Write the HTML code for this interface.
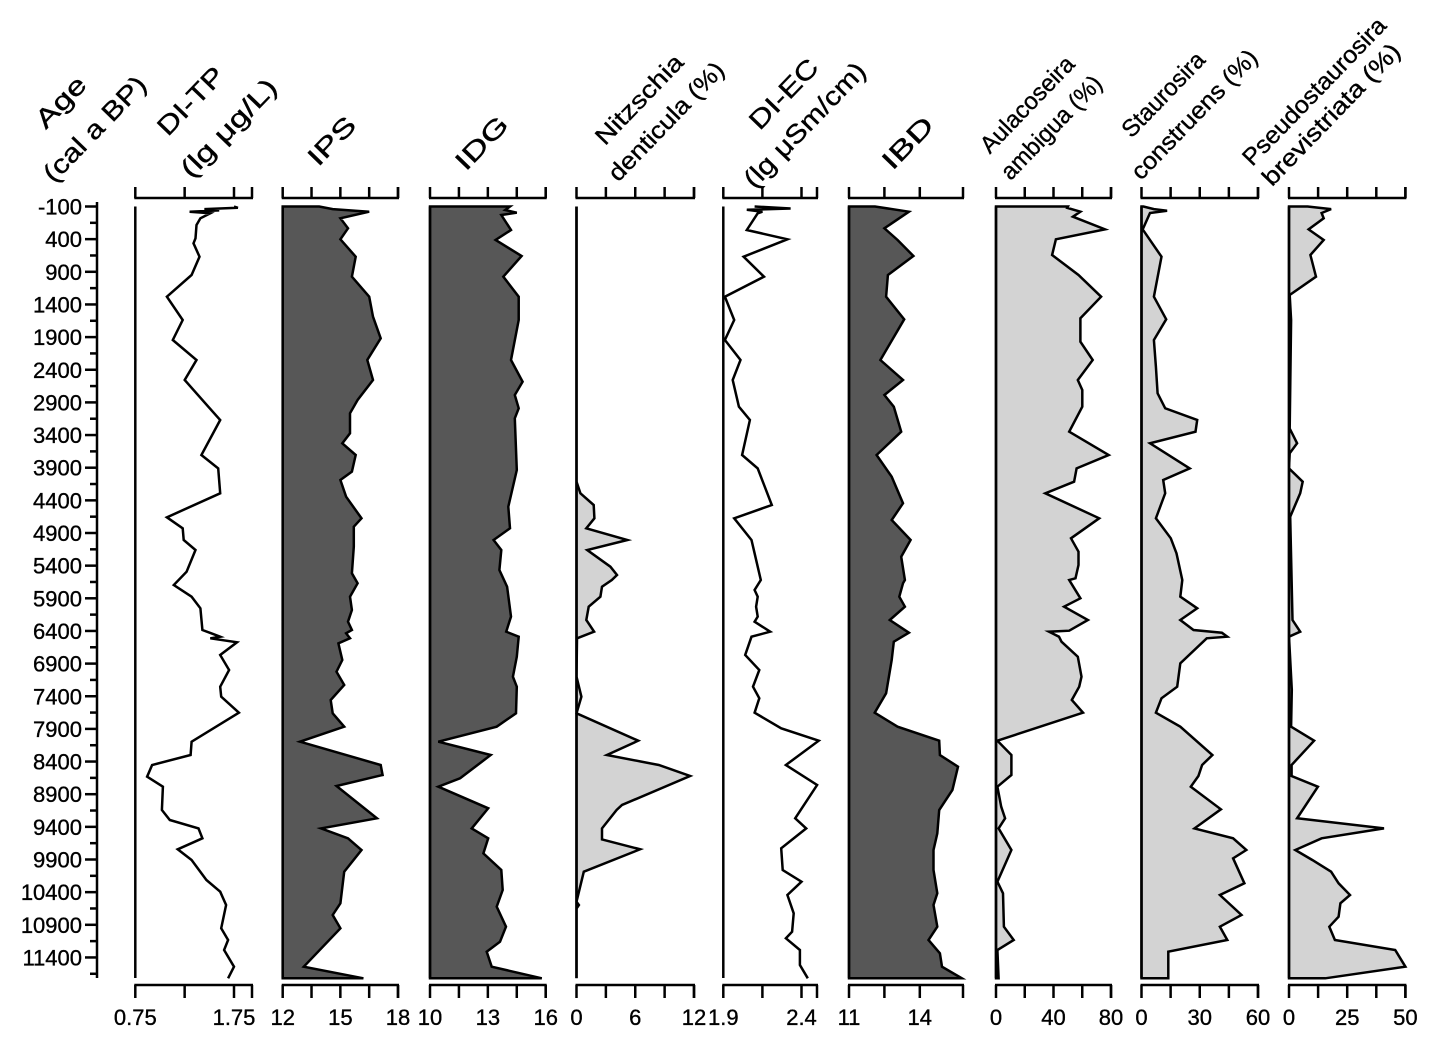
<!DOCTYPE html>
<html><head><meta charset="utf-8"><style>
html,body{margin:0;padding:0;background:#fff;}
svg{display:block;font-family:"Liberation Sans",Arial,sans-serif;}
text{stroke:#000;stroke-width:0.35px;}
</style></head><body>
<svg id="chart" width="1433" height="1046" viewBox="0 0 1433 1046" xmlns="http://www.w3.org/2000/svg"></svg>
<script>
const ageTicks = [-100,400,900,1400,1900,2400,2900,3400,3900,4400,4900,5400,5900,6400,6900,7400,7900,8400,8900,9400,9900,10400,10900,11400];

const tpAge = [-100,-80,-60,-40,-20,4,80,183,387,464,669,949,1281,1638,1944,2251,2557,2966,3170,3706,3910,4292,4660,4828,5007,5160,5493,5697,5876,6053,6385,6436,6488,6513,6574,6768,6998,7254,7407,7652,8096,8300,8453,8632,8785,9142,9295,9423,9576,9744,9908,10214,10393,10597,10954,11133,11286,11542,11720];
const tpVal = [1.75,1.79,1.45,1.60,1.30,1.51,1.41,1.37,1.36,1.34,1.40,1.32,1.07,1.23,1.13,1.37,1.25,1.49,1.61,1.42,1.59,1.61,1.07,1.23,1.24,1.36,1.27,1.14,1.32,1.41,1.43,1.52,1.61,1.51,1.78,1.61,1.70,1.61,1.62,1.80,1.32,1.31,0.92,0.87,1.03,1.02,1.10,1.39,1.43,1.18,1.32,1.47,1.61,1.67,1.62,1.69,1.65,1.75,1.69];

const ipsAge = [-100,-60,-20,80,234,402,669,975,1281,1588,1918,2251,2557,2863,3067,3373,3526,3706,3961,4088,4344,4675,4803,5110,5517,5670,5876,6079,6258,6385,6436,6513,6590,6845,7024,7228,7457,7661,7866,8096,8453,8606,8775,9269,9423,9576,9755,10087,10571,10750,10954,11542,11720];
const ipsVal = [13.9,14.6,16.5,15.0,15.4,15.0,15.8,15.6,16.5,16.7,17.1,16.4,16.7,15.9,15.5,15.5,15.1,15.8,15.6,15.0,15.3,16.1,15.7,15.7,15.6,15.9,15.5,15.6,15.4,15.6,15.3,15.5,14.9,15.1,14.8,15.2,14.5,14.6,15.2,12.9,17.1,17.2,14.8,16.9,14.0,15.4,16.1,15.2,15.0,14.6,15.0,13.1,16.2];

const idgAge = [-100,-46,-5,30,260,413,658,975,1281,1638,2251,2583,2787,2991,3144,3935,4497,4828,5007,5160,5467,5722,6181,6411,6488,6794,7101,7254,7661,7866,8096,8300,8657,8785,9116,9423,9576,9806,10061,10367,10623,10929,11159,11312,11542,11720];
const idgVal = [14.15,13.9,14.5,13.7,14.2,13.4,14.75,13.8,14.6,14.6,14.2,14.8,14.4,14.6,14.4,14.5,14.06,14.15,13.3,13.7,13.6,14.0,14.2,13.95,14.6,14.5,14.3,14.5,14.46,13.46,10.43,13.15,11.56,10.43,13.02,12.16,13.02,12.77,13.7,13.77,13.46,13.94,13.63,12.94,13.2,15.8];

const nitAge = [-100,4114,4292,4471,4675,4828,5007,5160,5416,5543,5620,5722,5876,6029,6233,6411,6513,7101,7407,7661,8080,8300,8453,8622,9065,9142,9423,9592,9744,10087,10546,10597,10650,11720];
const nitVal = [0,0,0.4,1.76,1.83,1.0,5.2,1.09,3.46,4.14,3.6,2.6,2.44,1.25,1.0,1.8,0.05,0,0.5,0,6.3,3.1,8.4,11.6,4.65,4.1,2.6,2.6,6.5,0.75,0,0.24,0,0];

const ecAge = [-100,-70,-50,-20,4,260,402,669,975,1281,1638,1944,2251,2557,2966,3170,3706,3910,4471,4675,5007,5211,5620,5773,5876,6029,6181,6258,6411,6488,6768,6998,7254,7431,7652,7891,8080,8453,8759,9269,9423,9729,10061,10240,10444,10724,11006,11107,11286,11516,11720];
const ecVal = [2.1,2.33,2.05,2.15,2.12,2.05,2.31,2.03,2.16,1.91,1.97,1.91,2.01,1.96,2.0,2.07,2.02,2.12,2.21,1.97,2.08,2.1,2.14,2.1,2.12,2.11,2.12,2.1,2.2,2.08,2.04,2.13,2.09,2.13,2.1,2.27,2.51,2.3,2.5,2.36,2.43,2.27,2.28,2.4,2.31,2.35,2.34,2.3,2.39,2.39,2.44];

const ibdAge = [-100,-20,234,413,658,949,1281,1627,2251,2557,2787,2966,3349,3706,4038,4445,4701,5007,5263,5620,5670,5876,6029,6233,6427,6564,6845,7355,7652,7866,8080,8300,8479,8836,9142,9500,9755,10061,10418,10597,10929,11133,11337,11542,11720];
const ibdVal = [12.1,13.54,12.5,13.06,13.73,12.65,12.57,13.34,12.33,13.29,12.5,12.9,13.21,12.17,12.81,13.29,12.81,13.61,13.21,13.37,13.29,13.13,13.37,12.73,13.54,12.9,12.81,12.57,12.09,13.06,14.82,14.85,15.62,15.38,14.82,14.74,14.58,14.58,14.74,14.58,14.74,14.37,14.85,14.94,15.78];

const aulAge = [-100,-80,-20,56,250,402,643,949,1281,1612,1970,2251,2557,2710,2966,3349,3706,3910,4114,4292,4675,4981,5186,5390,5594,5620,5900,6029,6233,6396,6411,6488,6564,6794,7101,7254,7457,7652,8080,8300,8606,8785,9091,9269,9423,9755,10240,10418,10929,11133,11286,11720];
const aulVal = [50,49.5,58.7,53.5,75.8,41.7,39.0,57.4,73.1,58.7,58.7,67.3,56.9,60.0,60.0,50.9,78.4,56.1,54.3,34.3,71.8,52.2,57.4,57.4,55.3,50.9,58.7,47.4,63.9,50.9,36.9,43.8,45.6,56.9,59.5,57.9,52.7,60.5,1.0,10.7,10.7,1.0,3.6,6.3,1.8,10.7,1.0,4.9,5.5,12.3,1.0,1.8];

const stAge = [-100,-60,-35,0,250,669,1281,1627,1944,2353,2761,2991,3170,3349,3526,3910,4088,4292,4675,4981,5211,5620,5876,6053,6233,6385,6427,6488,6513,6896,7254,7431,7652,7866,8300,8453,8622,8785,9131,9423,9576,9755,9882,10265,10444,10750,10929,11133,11312,11720];
const stVal = [1,6.4,13.2,4.4,0.6,10.3,6.4,12.7,6.4,7.4,8.3,12.2,28.7,27.8,4.4,24.8,11.2,12.2,7.4,15.1,18.0,21.0,20.0,28.7,20.0,26.8,41.4,44.2,33.6,20.0,18.4,10.3,7.4,20.0,36.5,31.2,29.3,25.4,40.9,27.3,47.2,54.0,47.2,53.0,40.4,51.5,40.4,44.2,13.8,13.8];

const psAge = [-100,-60,0,80,250,413,643,975,1255,1638,3300,3526,3680,3910,4114,4292,4650,6233,6411,6488,7300,7866,8080,8453,8622,8785,9269,9423,9576,9755,9908,10087,10265,10444,10571,10776,10929,11133,11286,11542,11720];
const psVal = [8,18.1,14.0,14.9,8.4,14.9,9.2,11.6,0.3,0.9,0.3,3.5,0.3,0,5.9,4.8,0.5,1.5,4.8,0,1.2,0.9,10.8,1.1,1.1,12.4,3.5,40.8,14.0,2.7,10.0,18.1,21.3,26.2,22.1,21.3,17.3,19.7,45.6,50.0,15.6];

const tpTicks = [0.75,1.25,1.75];
const tpLabels = ["0.75","1.75"];
const ipsTicks = [12,13.5,15,16.5,18];
const ipsLabels = ["12","15","18"];
const idgTicks = [10,11.5,13,14.5,16];
const idgLabels = ["10","13","16"];
const nitTicks = [0,3,6,9,12];
const nitLabels = ["0","6","12"];
const ecTicks = [1.9,2.15,2.4];
const ecLabels = ["1.9","2.4"];
const ibdTicks = [11,12.5,14];
const ibdLabels = ["11","14"];
const aulTicks = [0,20,40,60,80];
const aulLabels = ["0","40","80"];
const stTicks = [0,15,30,45,60];
const stLabels = ["0","30","60"];
const psTicks = [0,12.5,25,37.5,50];
const psLabels = ["0","25","50"];

const NS = "http://www.w3.org/2000/svg";
const svg = document.getElementById("chart");
const TOP = 206.5, BOT = 978, AX_TOP = 198, AX_BOT = 985, LW = 2.5;
function yAge(a){ return TOP + (a + 100) * 0.0653; }
function mk(tag, attrs, parent){
  const e = document.createElementNS(NS, tag);
  for (const k in attrs) e.setAttribute(k, attrs[k]);
  (parent || svg).appendChild(e);
  return e;
}
function title(txt, cx, cy, fs, len, g, nm){
  const x = cx + 5, y = cy + 5;
  const tx = mk("text", {x:x, y:y, "text-anchor":"middle", "font-size":fs, textLength:len, lengthAdjust:"spacingAndGlyphs",
    transform:"rotate(-46 "+x+" "+y+")"}, g);
  tx.textContent = txt;
  
  
}

const ageG = mk("g", {});


const ageLine = mk("line", {x1:97, y1:202, x2:97, y2:BOT, stroke:"#000", "stroke-width":LW}, ageG);


for (let a = -100; a <= 11650; a += 250) {
  const major = ((a + 100) % 500) === 0;
  const t = mk("line", {x1: major ? 85 : 90, y1: yAge(a), x2: 97, y2: yAge(a), stroke:"#000", "stroke-width":LW}, ageG);
  
  
}
ageTicks.forEach(a => {
  const tx = mk("text", {x:82, y: yAge(a) + 8, "text-anchor":"end", "font-size":22}, ageG);
  tx.textContent = String(a);
  
  
});

function panel(o){
  const g = mk("g", {});
  
  
  const sx = v => o.px0 + (v - o.v0) / (o.v1 - o.v0) * (o.px1 - o.px0);
  const base = sx(o.v0);
  [[AX_TOP, -11], [AX_BOT, 13]].forEach(([yy, d], i) => {
    const l = mk("line", {x1: base - 1, y1: yy, x2: o.end + 1, y2: yy, stroke:"#000", "stroke-width":LW}, g);
    
    
    const ends = o.ticks.map(sx).concat([o.end]);
    ends.forEach(xx => {
      const t = mk("line", {x1: xx, y1: yy, x2: xx, y2: yy + d, stroke:"#000", "stroke-width":LW}, g);
      
      
    });
  });
  o.labels.forEach(s => {
    const tx = mk("text", {x: sx(parseFloat(s)), y: 1025, "text-anchor":"middle", "font-size":22}, g);
    tx.textContent = s;
    
    
  });
  const pts = o.ages.map((a, i) => sx(o.vals[i]).toFixed(1) + "," + yAge(a).toFixed(1));
  if (o.fill) {
    const poly = base + "," + yAge(o.ages[0]).toFixed(1) + " " + pts.join(" ") + " " + base + "," + yAge(o.ages[o.ages.length-1]).toFixed(1);
    const p = mk("polygon", {points: poly, fill: o.fill, stroke:"#000", "stroke-width":LW, "stroke-linejoin":"miter"}, g);
    
    
  } else {
    const p = mk("polyline", {points: pts.join(" "), fill:"none", stroke:"#000", "stroke-width":LW}, g);
    
    
  }
  const vl = mk("line", {x1: base, y1: TOP, x2: base, y2: BOT, stroke:"#000", "stroke-width":LW}, g);
  
  
  o.title.forEach(t => title(t[0], t[1], t[2], t[3], t[4], g, o.name + '-title'));
}

const DARK = "#575757", LIGHT = "#d3d3d3";
panel({name:"di-tp", v0:0.75, v1:1.75, px0:135.3, px1:234, end:252, ticks:tpTicks, labels:tpLabels, ages:tpAge, vals:tpVal, fill:null, title:[["DI-TP",192,102,26,84],["(lg μg/L)",230,129,26,126]]});
panel({name:"ips", v0:12, v1:18, px0:282.7, px1:398, end:398, ticks:ipsTicks, labels:ipsLabels, ages:ipsAge, vals:ipsVal, fill:DARK, title:[["IPS",333,142,26,57]]});
panel({name:"idg", v0:10, v1:16, px0:430, px1:545.7, end:545.7, ticks:idgTicks, labels:idgLabels, ages:idgAge, vals:idgVal, fill:DARK, title:[["IDG",483,144,26,64]]});
panel({name:"nitzschia-denticula", v0:0, v1:12, px0:576.5, px1:694, end:694, ticks:nitTicks, labels:nitLabels, ages:nitAge, vals:nitVal, fill:LIGHT, title:[["Nitzschia",640,100,24,115],["denticula (%)",667,122,24,155]]});
panel({name:"di-ec", v0:1.9, v1:2.4, px0:723.3, px1:801.5, end:817, ticks:ecTicks, labels:ecLabels, ages:ecAge, vals:ecVal, fill:null, title:[["DI-EC",785,95,26,87],["(lg μSm/cm)",806,126,26,163]]});
panel({name:"ibd", v0:11, v1:14, px0:849, px1:919.8, end:963, ticks:ibdTicks, labels:ibdLabels, ages:ibdAge, vals:ibdVal, fill:DARK, title:[["IBD",909,144,26,62]]});
panel({name:"aulacoseira-ambigua", v0:0, v1:80, px0:996, px1:1111, end:1111, ticks:aulTicks, labels:aulLabels, ages:aulAge, vals:aulVal, fill:LIGHT, title:[["Aulacoseira",1028,105,24,124],["ambigua (%)",1052,128,24,134]]});
panel({name:"staurosira-construens", v0:0, v1:60, px0:1141.5, px1:1258, end:1258, ticks:stTicks, labels:stLabels, ages:stAge, vals:stVal, fill:LIGHT, title:[["Staurosira",1164,95,24,108],["construens (%)",1195,115,24,170]]});
panel({name:"pseudostaurosira-brevistriata", v0:0, v1:50, px0:1289, px1:1405.4, end:1405.4, ticks:psTicks, labels:psLabels, ages:psAge, vals:psVal, fill:LIGHT, title:[["Pseudostaurosira",1315,92,24,195],["brevistriata (%)",1332,115,24,187]]});

const ageTitle = mk("g", {});


title("Age", 62, 103, 26, 61, ageTitle, 'age-title-line');
title("(cal a BP)", 96, 130, 26, 136, ageTitle, 'age-unit-line');
</script>
</body></html>
